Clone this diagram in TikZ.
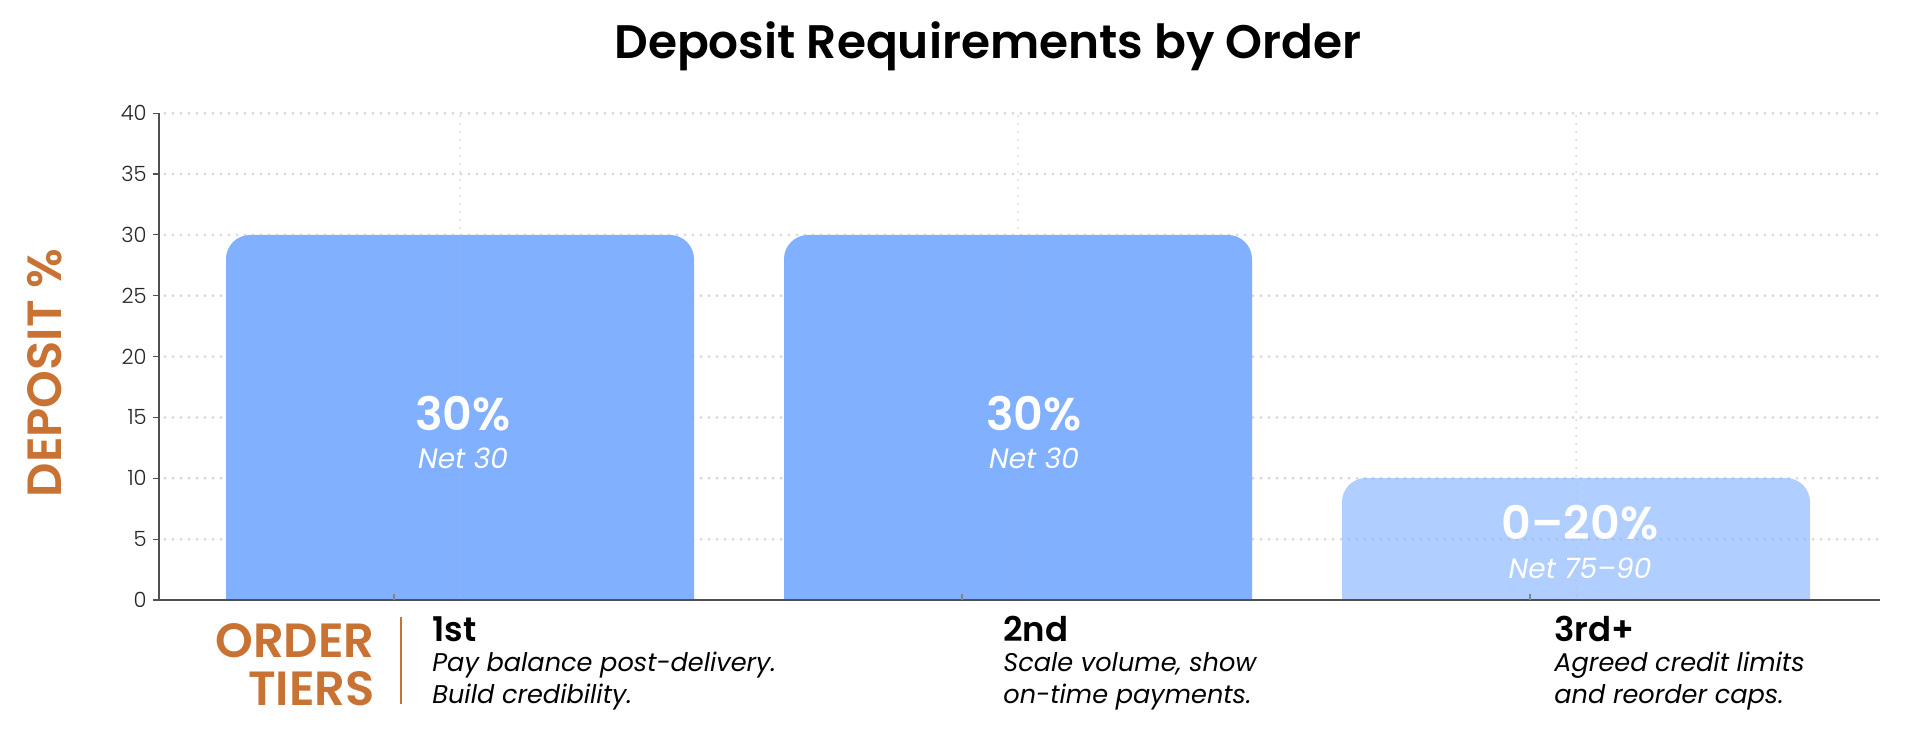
\documentclass[tikz,border=0pt]{standalone}
\usepackage{fontspec}
\setmainfont{Poppins}
\newfontfamily\popsemi{Poppins SemiBold}
\newfontfamily\popmed{Poppins Medium}
\newfontfamily\poplight{Poppins Light}
\definecolor{barblue}{RGB}{128,176,255}
\definecolor{orng}{RGB}{200,114,52}
\definecolor{gridc}{RGB}{218,218,218}
\definecolor{axisc}{RGB}{80,80,80}
\tikzset{
  gridh/.style={draw=gridc, line width=1.6pt, line cap=round, dash pattern=on 0pt off 4pt},
  gridv/.style={draw=gridc!85!black, line width=1pt, line cap=round, dash pattern=on 0pt off 4pt, opacity=0.6},
  ylab/.style={anchor=east, inner sep=0pt, font=\poplight\fontsize{10.5pt}{12pt}\selectfont, text=black!85},
  pct/.style={inner sep=0pt, text=white, font=\popsemi\fontsize{23pt}{26pt}\selectfont},
  net/.style={inner sep=0pt, text=white, font=\itshape\fontsize{14pt}{16pt}\selectfont},
  tier/.style={anchor=base west, inner sep=0pt, font=\popsemi\fontsize{17pt}{20pt}\selectfont},
  desc/.style={anchor=base west, inner sep=0pt, align=left, font=\itshape\fontsize{12.8pt}{16pt}\selectfont},
  orngtxt/.style={inner sep=0pt, text=orng, font=\popsemi\fontsize{24pt}{26pt}\selectfont},
}
\begin{document}
\begin{tikzpicture}[x=0.5pt,y=-0.5pt]
\useasboundingbox[fill=white] (0,0) rectangle (1920,732);
% title
\node[inner sep=0pt, font=\popsemi\fontsize{23.5pt}{26pt}\selectfont] (title) at (988,46) {Deposit Requirements by Order};
% horizontal gridlines
\foreach \v in {5,10,...,40} {
  \draw[gridh] (165,{600-12.17*\v}) -- (1880,{600-12.17*\v});
}
% bars
\fill[barblue] (226,600) [rounded corners=12pt] -- (226,235) -- (694,235) [sharp corners] -- (694,600) -- cycle;
\fill[barblue] (784,600) [rounded corners=12pt] -- (784,235) -- (1252,235) [sharp corners] -- (1252,600) -- cycle;
\fill[barblue, fill opacity=0.62] (1342,600) [rounded corners=12pt] -- (1342,478) -- (1810,478) [sharp corners] -- (1810,600) -- cycle;
% vertical gridlines
\foreach \xx in {460,1018,1576} {
  \draw[gridv] (\xx,116) -- (\xx,596);
}
% axes
\coordinate (o) at (159,600);
\coordinate (ytop) at (159,113);
\coordinate (xend) at (1880,600);
\draw[axisc, line width=0.8pt] (ytop) -- (o) -- (xend);
\foreach \v in {0,5,...,40} {
  \draw[axisc, line width=0.6pt] (153,{600-12.17*\v}) -- (159,{600-12.17*\v});
  \node[ylab] (y\v) at (147,{600-12.17*\v}) {\v};
}
\foreach \xx in {394,962,1530} {
  \draw[axisc!70, line width=0.6pt] (\xx,594) -- (\xx,600);
}
% y axis title
\node[orngtxt, rotate=90] (ytitle) at (45,373) {DEPOSIT \%};
% bar labels
\node[pct] (p1) at (463,414) {30\%};
\node[net] (n1) at (463,458) {Net 30};
\node[pct] (p2) at (1034,414) {30\%};
\node[net] (n2) at (1034,458) {Net 30};
\node[pct] (p3) at (1580,523) {0–20\%};
\node[net] (n3) at (1580,568) {Net 75–90};
% order tiers
\node[orngtxt, anchor=base east] (ord) at (375,657) {ORDER};
\node[orngtxt, anchor=base east] (tiers) at (375,705) {TIERS};
\coordinate (sepA) at (401,617);
\coordinate (sepB) at (401,704);
\draw[orng, line width=0.8pt] (sepA) -- (sepB);
\node[tier] (t1) at (432,641) {1st};
\node[desc] (d1a) at (432,671) {Pay balance post-delivery.};
\node[desc] (d1b) at (432,703) {Build credibility.};
\node[tier] (t2) at (1003,641) {2nd};
\node[desc] (d2a) at (1003,671) {Scale volume, show};
\node[desc] (d2b) at (1003,703) {on-time payments.};
\node[tier] (t3) at (1554,641) {3rd+};
\node[desc] (d3a) at (1554,671) {Agreed credit limits};
\node[desc] (d3b) at (1554,703) {and reorder caps.};
\end{tikzpicture}
\end{document}
